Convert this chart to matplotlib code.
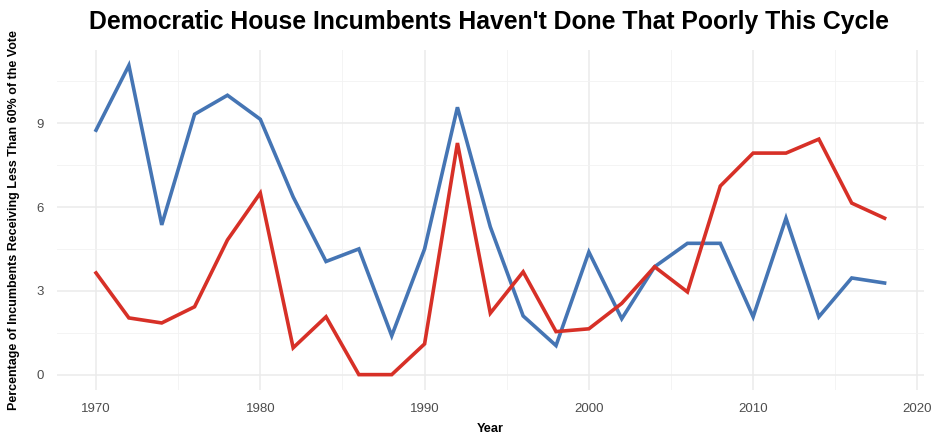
import numpy as np
import matplotlib.pyplot as plt
from matplotlib import font_manager

# Data
years = list(range(1970, 2020, 2))
blue_pct = [8.75, 11.07, 5.36, 9.32, 10.0, 9.14, 6.36, 4.05, 4.5, 1.39,
            4.5, 9.57, 5.29, 2.1, 1.04, 4.39, 2.0, 3.86, 4.7, 4.7,
            2.07, 5.6, 2.07, 3.46, 3.28]
red_pct = [3.64, 2.03, 1.85, 2.43, 4.82, 6.5, 0.96, 2.07, 0.0, 0.0,
           1.1, 8.29, 2.2, 3.68, 1.54, 1.64, 2.55, 3.86, 2.96, 6.75,
           7.93, 7.93, 8.43, 6.14, 5.6]
x_ticks = [1970, 1980, 1990, 2000, 2010, 2020]
y_ticks = [0, 3, 6, 9]

names = {f.name for f in font_manager.fontManager.ttflist}
tick_font = 'Liberation Sans Narrow' if 'Liberation Sans Narrow' in names else 'Liberation Sans'
plt.rcParams['font.family'] = ['Liberation Sans', 'DejaVu Sans']

W, H = 937, 446
fig = plt.figure(figsize=(W / 100, H / 100), dpi=100)
ax = fig.add_axes([56.6 / W, (H - 390) / H, (924 - 56.6) / W, (390 - 50) / H])

ax.plot(years, blue_pct, color='#4575B4', linewidth=2.6, solid_joinstyle='miter', zorder=3)
ax.plot(years, red_pct, color='#D73027', linewidth=2.6, solid_joinstyle='miter', zorder=3)

ax.set_xlim(1967.6, 2020.4)
ax.set_ylim(-0.55, 11.62)
ax.set_xticks(x_ticks)
ax.set_yticks(y_ticks)
ax.set_xticks([1975, 1985, 1995, 2005, 2015], minor=True)
ax.set_yticks([1.5, 4.5, 7.5, 10.5], minor=True)
ax.grid(which='major', color='#EBEBEB', linewidth=1.1)
ax.grid(which='minor', color='#F2F2F2', linewidth=0.6)
ax.set_axisbelow(True)
ax.tick_params(which='both', length=0, pad=9, labelsize=9.5, labelcolor='#4D4D4D')
for lab in ax.get_xticklabels() + ax.get_yticklabels():
    lab.set_fontfamily(tick_font)
for s in ax.spines.values():
    s.set_visible(False)

ax.set_xlabel('Year', fontsize=9.2, fontweight='bold', labelpad=6)
ax.set_ylabel('Percentage of Incumbents Receiving Less Than 60% of the Vote',
              fontsize=9.0, fontweight='bold', labelpad=12)
fig.text(489 / W, 1 - 22 / H, "Democratic House Incumbents Haven't Done That Poorly This Cycle",
         ha='center', va='center', fontsize=17.8, fontweight='bold')

fig.savefig('out.png', dpi=100)
